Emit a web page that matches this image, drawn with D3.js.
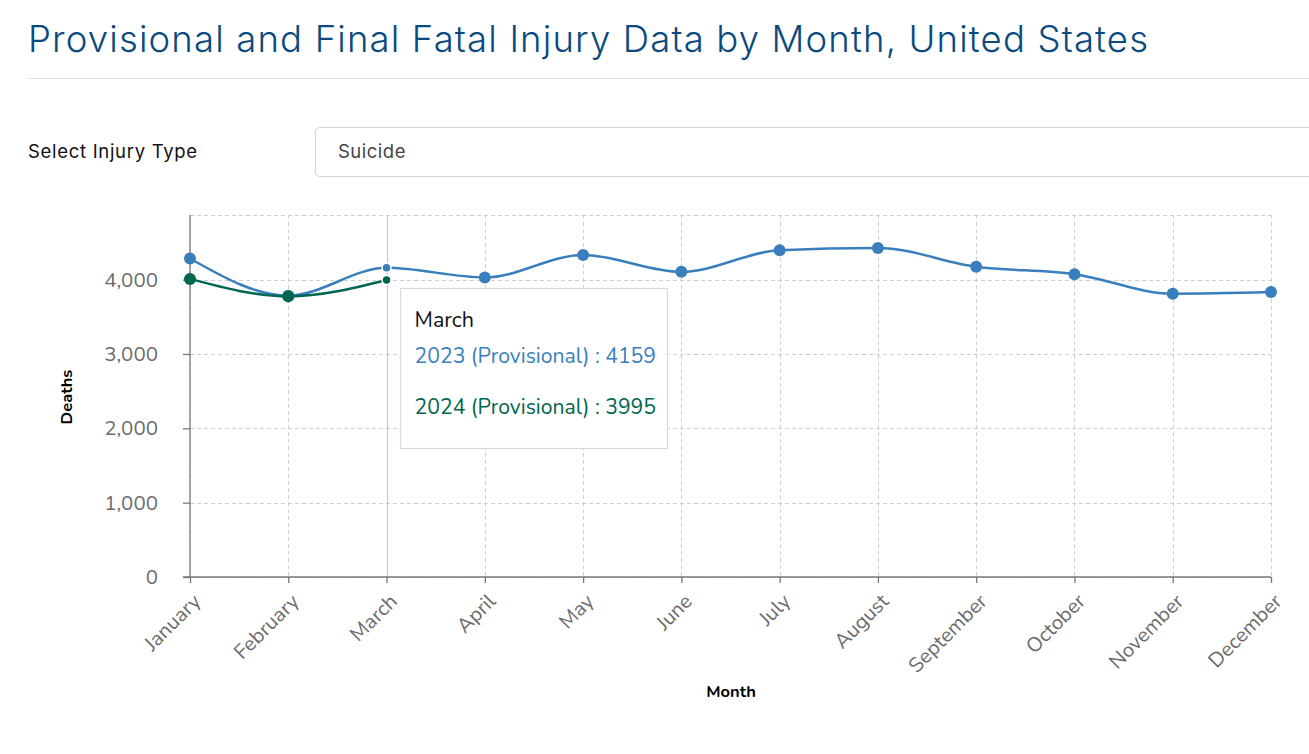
<!DOCTYPE html>
<html>
<head>
<meta charset="utf-8">
<script src="https://cdn.jsdelivr.net/npm/d3@7"></script>
<style>
  html, body { margin: 0; padding: 0; background: #fff; }
  svg { display: block; }
</style>
</head>
<body>
<svg id="chart" width="1309" height="754"></svg>
<script>
const months = ["January","February","March","April","May","June","July","August","September","October","November","December"];
const series2023 = [4285, 3785, 4159, 4030, 4331, 4105, 4396, 4427, 4174, 4074, 3811, 3833];
const series2024 = [4010, 3775, 3995];
const seriesNames = ["2023 (Provisional)", "2024 (Provisional)"];
const seriesColors = ["#3a7fbd", "#00664f"];
const yTicks = [0, 1000, 2000, 3000, 4000];
const hoverIndex = 2;

(function () {
const svg = d3.select("#chart");
const pL = 190, pR = 1271, pT = 215, pB = 577;

// Title
svg.append("text").attr("x", 28).attr("y", 52)
  .attr("font-family", "Inter, 'Noto Sans', sans-serif").attr("font-weight", 300)
  .attr("font-size", 36.5).attr("letter-spacing", 1.15).attr("fill", "#0b4a7e")
  .text("Provisional and Final Fatal Injury Data by Month, United States");
svg.append("line").attr("x1", 28).attr("x2", 1309).attr("y1", 78.5).attr("y2", 78.5)
  .attr("stroke", "#e3e3e3");

// Select
svg.append("text").attr("x", 28).attr("y", 158)
  .attr("font-family", "Inter, 'Noto Sans', sans-serif").attr("font-size", 18.5)
  .attr("letter-spacing", 0.7).attr("fill", "#111")
  .text("Select Injury Type");
svg.append("rect").attr("x", 315.5).attr("y", 127.5).attr("width", 1010).attr("height", 49)
  .attr("rx", 4).attr("fill", "#fff").attr("stroke", "#cfd3d8");
svg.append("text").attr("x", 338).attr("y", 158)
  .attr("font-family", "Inter, 'Noto Sans', sans-serif").attr("font-size", 18.5)
  .attr("letter-spacing", 0.5).attr("fill", "#444")
  .text("Suicide");

const allVals = series2023.concat(series2024);
const x = d3.scalePoint().domain(months).range([pL, pR]);
const y = d3.scaleLinear().domain([0, d3.max(allVals) * 1.1]).range([pB, pT]);

const font = "Nunito, Lato, 'Open Sans', sans-serif";

// Grid
const grid = svg.append("g");
grid.selectAll("line.h").data(yTicks.concat([y.domain()[1]])).join("line")
  .attr("x1", pL).attr("x2", pR)
  .attr("y1", d => Math.round(y(d)) + 0.5).attr("y2", d => Math.round(y(d)) + 0.5)
  .attr("stroke", "#cfcfcf").attr("stroke-dasharray", "4,3");
grid.selectAll("line.v").data(months).join("line")
  .attr("x1", d => Math.round(x(d)) + 0.5).attr("x2", d => Math.round(x(d)) + 0.5)
  .attr("y1", pT).attr("y2", pB)
  .attr("stroke", "#cfcfcf").attr("stroke-dasharray", "4,3");

// Hover line
svg.append("line")
  .attr("x1", Math.round(x(months[hoverIndex])) + 0.5).attr("x2", Math.round(x(months[hoverIndex])) + 0.5)
  .attr("y1", pT).attr("y2", pB).attr("stroke", "#c8c8c8").attr("stroke-width", 1.2);

// Axes
const yAxis = svg.append("g").attr("transform", `translate(${pL},0)`)
  .call(d3.axisLeft(y).tickValues(yTicks).tickSize(7).tickPadding(25).tickFormat(d3.format(",")));
const xAxis = svg.append("g").attr("transform", `translate(0,${pB})`)
  .call(d3.axisBottom(x).tickSize(6).tickSizeOuter(0));
[yAxis, xAxis].forEach(g => {
  g.select(".domain").attr("stroke", "#777").attr("stroke-width", 1.3);
  g.selectAll(".tick line").attr("stroke", "#777").attr("stroke-width", 1.3);
  g.selectAll("text").attr("font-family", font).attr("font-size", 20.5).attr("fill", "#6b6b6b");
});
yAxis.select(".domain").attr("d", `M0,${pT}V${pB}`);
xAxis.select(".domain").attr("d", `M${pL - 7},0H${pR}`);
xAxis.selectAll(".tick text")
  .attr("text-anchor", "end").attr("dx", "0.2em").attr("dy", "0.98em")
  .attr("transform", "rotate(-45) translate(-14,-3)");

// Axis titles
svg.append("text").attr("transform", "translate(72,397) rotate(-90)")
  .attr("text-anchor", "middle").attr("font-family", font).attr("font-weight", 700)
  .attr("font-size", 16.5).attr("fill", "#000").text("Deaths");
svg.append("text").attr("x", 731).attr("y", 697)
  .attr("text-anchor", "middle").attr("font-family", font).attr("font-weight", 700)
  .attr("font-size", 16.5).attr("fill", "#000").text("Month");

// Lines
const line = d3.line().x((d, i) => x(months[i])).y(d => y(d)).curve(d3.curveMonotoneX);
[series2023, series2024].forEach((s, k) => {
  svg.append("path").datum(s).attr("d", line).attr("fill", "none")
    .attr("stroke", seriesColors[k]).attr("stroke-width", 2.5);
});
[series2023, series2024].forEach((s, k) => {
  svg.append("g").selectAll("circle").data(s).join("circle")
    .attr("cx", (d, i) => x(months[i])).attr("cy", d => y(d))
    .attr("r", (d, i) => i === hoverIndex ? 4.5 : 6)
    .attr("fill", seriesColors[k])
    .attr("stroke", (d, i) => i === hoverIndex ? "#fff" : "none")
    .attr("stroke-width", 1.5);
});

// Tooltip
const tt = svg.append("g").attr("transform", "translate(400.5,288.5)");
tt.append("rect").attr("width", 267).attr("height", 160).attr("fill", "#fff")
  .attr("stroke", "#d9d9d9").attr("stroke-width", 1.2);
tt.append("text").attr("x", 14).attr("y", 38).attr("font-family", font).attr("font-size", 21.5)
  .attr("fill", "#111").text(months[hoverIndex]);
[series2023, series2024].forEach((s, k) => {
  tt.append("text").attr("x", 14).attr("y", 74 + k * 51).attr("font-family", font).attr("font-size", 21.2)
    .attr("fill", seriesColors[k]).text(`${seriesNames[k]} : ${s[hoverIndex]}`);
});
})();
</script>
</body>
</html>
